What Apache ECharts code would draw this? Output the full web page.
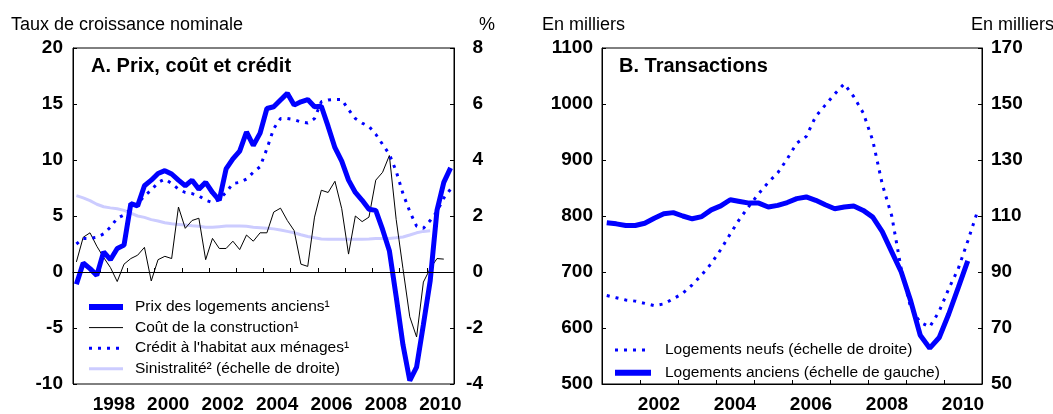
<!DOCTYPE html>
<html>
<head>
<meta charset="utf-8">
<script src="https://cdn.jsdelivr.net/npm/echarts@6/dist/echarts.min.js"></script>
<style>
html,body{margin:0;padding:0;background:#fff;}
#c{width:1053px;height:414px;}
</style>
</head>
<body>
<div id="c"></div>
<script>
// ---------- Data ----------
// Panel A: quarterly, 1997T1 .. 2010T4
var quartersA = [];
for (var y = 1997; y <= 2010; y++) { for (var q = 1; q <= 4; q++) quartersA.push(y + 'T' + q); }
var prixAnciens = [-1.1, 0.8, 0.3, -0.3, 1.8, 1.1, 2.1, 2.4, 6.1, 5.9, 7.7, 8.2, 8.8, 9.05, 8.75, 8.2,
  7.7, 8.2, 7.4, 8.0, 7.1, 6.4, 9.2, 10.1, 10.8, 12.5, 11.3, 12.4, 14.6, 14.75, 15.35, 15.95,
  14.9, 15.2, 15.4, 14.75, 14.8, 13.0, 11.1, 9.9, 8.2, 7.1, 6.4, 5.6, 5.5, 3.8, 1.9, -2.2,
  -6.5, -9.7, -8.5, -4.7, -0.8, 5.5, 8.0, 9.3];
var coutConstruction = [0.9, 3.1, 3.5, 2.3, 1.3, 0.4, -0.85, 0.7, 1.2, 1.5, 2.2, -0.8, 1.1, 1.4, 1.2, 5.8,
  3.9, 4.6, 4.8, 1.1, 3.0, 2.1, 2.1, 2.75, 2.0, 3.3, 2.75, 3.5, 3.5, 5.35, 5.7, 4.6,
  3.7, 0.7, 0.5, 4.9, 7.3, 7.1, 8.1, 5.65, 1.6, 5.0, 4.5, 4.9, 8.2, 8.9, 10.4, 4.7,
  0.3, -4.0, -5.8, -0.9, 0.3, 1.2, 1.15, null];
var creditHabitat = [2.5, 3.0, 3.0, 3.1, 3.4, 4.0, 4.8, 5.1, 5.6, 6.1, 6.8, 7.3, 8.0, 8.3, 7.9, 7.4,
  7.1, 7.0, 6.8, 6.4, 6.2, 6.5, 7.1, 7.9, 8.0, 8.3, 8.9, 9.4, 11.0, 12.8, 13.7, 13.7,
  13.6, 13.4, 13.3, 13.7, 15.2, 15.35, 15.4, 15.4, 14.5, 13.7, 13.3, 13.0, 12.3, 11.4, 10.5, 9.0,
  7.0, 5.4, 4.1, 3.9, 4.6, 5.4, 6.6, 7.4];
var sinistralite = [2.73, 2.65, 2.55, 2.42, 2.33, 2.29, 2.26, 2.2, 2.1, 2.0, 1.95, 1.87, 1.82, 1.76, 1.72, 1.7,
  1.68, 1.65, 1.63, 1.6, 1.6, 1.62, 1.64, 1.64, 1.64, 1.63, 1.6, 1.58, 1.56, 1.54, 1.5, 1.45,
  1.4, 1.33, 1.27, 1.22, 1.18, 1.17, 1.17, 1.17, 1.17, 1.17, 1.17, 1.18, 1.2, 1.2, 1.2, 1.22,
  1.25, 1.32, 1.4, 1.45, 1.47, null, null, null];

// Panel B: quarterly, 2001T1 .. 2010T4
var quartersB = [];
for (var y2 = 2001; y2 <= 2010; y2++) { for (var q2 = 1; q2 <= 4; q2++) quartersB.push(y2 + 'T' + q2); }
var logementsAnciens = [788, 786, 783, 783, 787, 796, 804, 806, 800, 795, 799, 811, 818, 829, 826, 823,
  823, 816, 819, 824, 831, 834, 828, 820, 813, 816, 818, 810, 798, 772, 736, 700,
  648, 587, 564, 583, 625, 672, 720, null];
var logementsNeufs = [81.6, 80.8, 80, 79.6, 78.8, 78, 78.6, 80.4, 82.4, 85.4, 89, 93, 98, 103.6, 109, 113.6,
  118, 122, 125.4, 130.4, 136, 138.4, 145.6, 149.6, 153.6, 157.2, 152.6, 146.8, 137, 121.4, 110, 91,
  77.2, 72, 70.4, 76, 84, 91.2, 101, 111.4];

// Axis ranges (tick labels)
var yLeftA = { min: -10, max: 20, step: 5 };
var yRightA = { min: -4, max: 8, step: 2 };
var yLeftB = { min: 500, max: 1100, step: 100 };
var yRightB = { min: 50, max: 170, step: 20 };
var yearsA = { min: 1997, max: 2011 };
var yearsB = { min: 2001, max: 2011 };

var names = {
  prix: 'Prix des logements anciens\u00b9',
  cout: 'Co\u00fbt de la construction\u00b9',
  credit: "Cr\u00e9dit \u00e0 l'habitat aux m\u00e9nages\u00b9",
  sin: 'Sinistralit\u00e9\u00b2 (\u00e9chelle de droite)',
  neufs: 'Logements neufs (\u00e9chelle de droite)',
  anciens: 'Logements anciens (\u00e9chelle de gauche)'
};

// ---------- Build ----------
function qx(label) { var p = label.split('T'); return +p[0] + (+p[1] - 0.5) / 4; }
function pairs(labels, vals) { return labels.map(function (l, i) { return [qx(l), vals[i]]; }); }

var FONT = 'Liberation Sans, Arial, Helvetica, sans-serif';
var BLUE = '#0000ff';
var LAV = '#ccccff';

function xTickAxis(grid, r) {
  return { type: 'value', gridIndex: grid, min: r.min, max: r.max, interval: 1, position: 'bottom',
    axisLine: { show: true, lineStyle: { color: '#000', width: 1 } },
    axisTick: { show: true, inside: true, length: 4, lineStyle: { color: '#000' } },
    axisLabel: { show: false }, splitLine: { show: false } };
}
function xLabelAxis(grid, r, first) {
  return { type: 'value', gridIndex: grid, min: r.min - 0.5, max: r.max - 0.5, interval: 0.5, position: 'bottom',
    axisLine: { show: false }, axisTick: { show: false }, splitLine: { show: false },
    axisLabel: { show: true, margin: 11, fontSize: 19, fontWeight: 'bold', color: '#000', fontFamily: FONT,
      formatter: function (v) { return (Math.abs(v - Math.round(v)) < 1e-6 && Math.round(v) % 2 === 0 && v >= first) ? String(Math.round(v)) : ''; } } };
}
function yAxis(grid, r, pos, labelCfg) {
  return { type: 'value', gridIndex: grid, min: r.min, max: r.max, interval: r.step, position: pos,
    axisLine: { show: true, lineStyle: { color: '#000', width: 1 } },
    axisTick: { show: true, inside: true, length: 4, lineStyle: { color: '#000' } },
    splitLine: { show: false },
    axisLabel: Object.assign({ fontSize: 19, fontWeight: 'bold', color: '#000', fontFamily: FONT,
      formatter: function (v) { return String(v); } }, labelCfg) };
}
var titleStyle = { fontSize: 18, fontWeight: 'normal', color: '#000', fontFamily: FONT };

var option = {
  animation: false,
  backgroundColor: '#fff',
  textStyle: { fontFamily: FONT },
  grid: [
    { left: 73, top: 48, width: 381, height: 339, show: true, borderColor: '#000', borderWidth: 1, backgroundColor: 'transparent' },
    { left: 602, top: 48, width: 380, height: 339, show: true, borderColor: '#000', borderWidth: 1, backgroundColor: 'transparent' }
  ],
  title: [
    { text: 'Taux de croissance nominale', left: 11, top: 16, padding: 0, textStyle: titleStyle },
    { text: '%', left: 479, top: 16, padding: 0, textStyle: titleStyle },
    { text: 'En milliers', left: 542, top: 16, padding: 0, textStyle: titleStyle },
    { text: 'En milliers', left: 971, top: 16, padding: 0, textStyle: titleStyle },
    { text: 'A. Prix, co\u00fbt et cr\u00e9dit', left: 91, top: 56, padding: 0, textStyle: { fontSize: 20, fontWeight: 'bold', color: '#000', fontFamily: FONT } },
    { text: 'B. Transactions', left: 619, top: 56, padding: 0, textStyle: { fontSize: 20, fontWeight: 'bold', color: '#000', fontFamily: FONT } }
  ],
  legend: [
    { data: [
        { name: names.prix, lineStyle: { width: 6 } },
        { name: names.cout, lineStyle: { width: 1 } },
        { name: names.credit, lineStyle: { width: 3 } },
        { name: names.sin, lineStyle: { width: 3 } }
      ],
      orient: 'vertical', left: 86, top: 299,
      itemWidth: 34, itemHeight: 14, itemGap: 4.6, padding: 0, selectedMode: false,
      itemStyle: { opacity: 0 },
      textStyle: { fontSize: 15.5, color: '#000', fontFamily: FONT, padding: [0, 0, 0, 7] } },
    { data: [
        { name: names.neufs, lineStyle: { width: 3 } },
        { name: names.anciens, lineStyle: { width: 6 } }
      ],
      orient: 'vertical', left: 612, top: 342,
      itemWidth: 36, itemHeight: 14, itemGap: 6.8, padding: 0, selectedMode: false,
      itemStyle: { opacity: 0 },
      textStyle: { fontSize: 15.5, color: '#000', fontFamily: FONT, padding: [0, 0, 0, 9] } }
  ],
  xAxis: [
    xTickAxis(0, yearsA), xLabelAxis(0, yearsA, 1998),
    xTickAxis(1, yearsB), xLabelAxis(1, yearsB, 2002)
  ],
  yAxis: [
    yAxis(0, yLeftA, 'left', { margin: 10 }),
    yAxis(0, yRightA, 'right', { margin: 29, align: 'right' }),
    yAxis(1, yLeftB, 'left', { margin: 9 }),
    yAxis(1, yRightB, 'right', { margin: 9 })
  ],
  series: [
    { name: names.sin, type: 'line', xAxisIndex: 0, yAxisIndex: 1, symbol: 'none', z: 1,
      data: pairs(quartersA, sinistralite), lineStyle: { color: LAV, width: 3 }, itemStyle: { color: LAV } },
    { name: names.cout, type: 'line', xAxisIndex: 0, yAxisIndex: 0, symbol: 'none', z: 2,
      data: pairs(quartersA, coutConstruction), lineStyle: { color: '#000', width: 1 }, itemStyle: { color: '#000' },
      markLine: { silent: true, symbol: 'none', label: { show: false }, lineStyle: { color: '#000', width: 1, type: 'solid' }, data: [{ yAxis: 0 }] } },
    { name: names.credit, type: 'line', xAxisIndex: 0, yAxisIndex: 0, symbol: 'none', z: 3,
      data: pairs(quartersA, creditHabitat), lineStyle: { color: BLUE, width: 3, type: [3, 6] }, itemStyle: { color: BLUE } },
    { name: names.prix, type: 'line', xAxisIndex: 0, yAxisIndex: 0, symbol: 'none', z: 4,
      data: pairs(quartersA, prixAnciens), lineStyle: { color: BLUE, width: 5 }, itemStyle: { color: BLUE } },

    { name: names.neufs, type: 'line', xAxisIndex: 2, yAxisIndex: 3, symbol: 'none', z: 3,
      data: pairs(quartersB, logementsNeufs), lineStyle: { color: BLUE, width: 3, type: [3, 6] }, itemStyle: { color: BLUE } },
    { name: names.anciens, type: 'line', xAxisIndex: 2, yAxisIndex: 2, symbol: 'none', z: 4,
      data: pairs(quartersB, logementsAnciens), lineStyle: { color: BLUE, width: 5 }, itemStyle: { color: BLUE } }
  ]
};

var chart = echarts.init(document.getElementById('c'), null, { renderer: 'canvas' });
chart.setOption(option);
</script>
</body>
</html>
